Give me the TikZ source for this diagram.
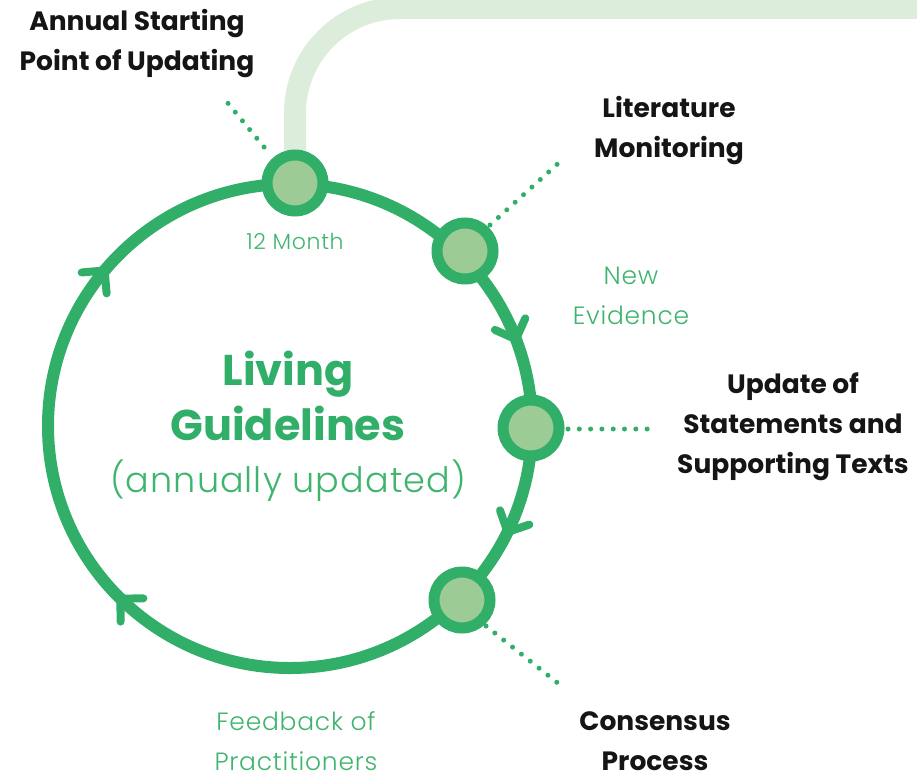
\documentclass[tikz,border=0pt]{standalone}
\usepackage{fontspec}
\setmainfont{Poppins}
\newfontfamily\lightfont[LetterSpace=3]{Poppins Light}
\usetikzlibrary{calc}
\definecolor{gmain}{HTML}{31AE67}
\definecolor{glight}{HTML}{9CCB96}
\definecolor{gtext}{HTML}{3FB46E}
\definecolor{gband}{HTML}{DCEDDC}
\definecolor{ink}{HTML}{151515}
\begin{document}
\begin{tikzpicture}[x=1pt,y=1pt,
  ring/.style={circle, draw=gmain, fill=glight, line width=11pt, minimum size=56pt, inner sep=0pt},
  loopline/.style={draw=gmain, line width=12pt},
  chev/.style={draw=gmain, line width=8pt, line cap=round, line join=round},
  dots/.style={draw=gmain, line width=5pt, line cap=round, dash pattern=on 0pt off 11.3pt},
  band/.style={draw=gband, line width=22pt},
  lab/.style={align=center, inner sep=0pt, text=ink, font=\bfseries\fontsize{26.5}{40}\selectfont},
  glab/.style={align=center, inner sep=0pt, text=gtext, font=\lightfont\fontsize{25}{40}\selectfont},
]
\useasboundingbox (0,0) rectangle (917,-776);
\coordinate (c) at (290,-426);
\coordinate (p1) at (295,-183);
\coordinate (p2) at (465,-251);
\coordinate (p3) at (531,-428);
\coordinate (p4) at (462,-600);
\coordinate (bandend) at (940,-8);
% light band
\draw[band, rounded corners=105pt] (p1) -- (295,-8) -- (bandend);
% main loop
\draw[loopline] (c) circle (242pt);
% arrow chevrons (clockwise)
\foreach \a in {140,21,-26,-134.5}{
  \draw[chev] ($(c)+(\a:242pt)$) ++(\a+90+45:23pt) -- ($(c)+(\a:242pt)$) -- ++(\a+90-45:23pt);
}
% stations
\node[ring] (n1) at (p1) {};
\node[ring] (n2) at (p2) {};
\node[ring] (n3) at (p3) {};
\node[ring] (n4) at (p4) {};
% labels
\node[lab] (l1) at (137,-44) {Annual Starting\\Point of Updating};
\node[lab] (l2) at (669,-131) {Literature\\Monitoring};
\node[lab] (l3) at (793,-427) {Update of\\Statements and\\Supporting Texts};
\node[lab] (l4) at (655,-741) {Consensus\\Process};
\node[glab, font=\lightfont\fontsize{22}{24}\selectfont] (t1) at (295,-241) {12 Month};
\node[glab] (t2) at (631,-296) {New\\Evidence};
\node[glab] (t3) at (296,-741) {Feedback of\\Practitioners};
\node[align=center, text=gmain, font=\bfseries\fontsize{43}{55}\selectfont] (title) at (288,-396) {Living\\Guidelines};
\node[text=gtext, font=\lightfont\fontsize{35}{40}\selectfont] (sub) at (288,-481) {(annually updated)};
% dotted leaders
\coordinate (d1a) at (222,-96);  \coordinate (d1b) at (264,-147);
\coordinate (d2a) at (490,-225); \coordinate (d2b) at (563,-159);
\coordinate (d3a) at (568,-429); \coordinate (d3b) at (650,-429);
\coordinate (d4a) at (486,-626); \coordinate (d4b) at (564,-688);
\draw[dots] (d1b) -- (d1a);
\draw[dots] (d2a) -- (d2b);
\draw[dots] (d3a) -- (d3b);
\draw[dots] (d4a) -- (d4b);
\end{tikzpicture}
\end{document}
